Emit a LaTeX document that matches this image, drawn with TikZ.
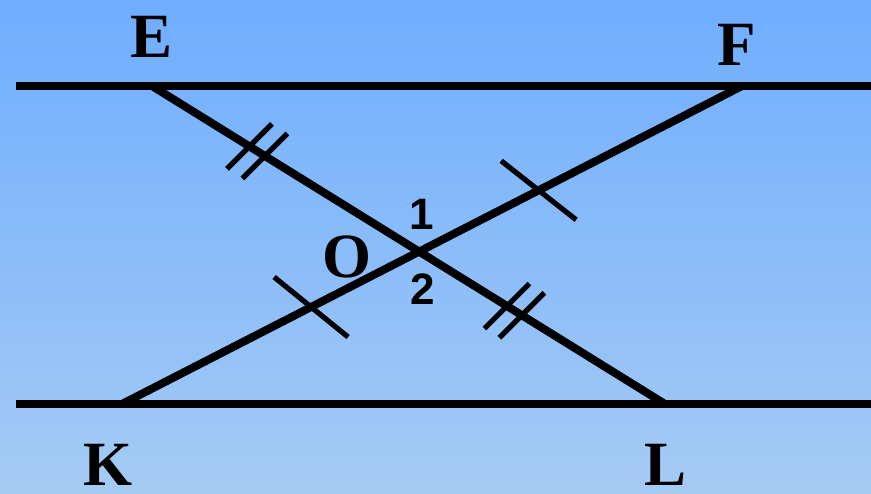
\documentclass[tikz,border=0pt]{standalone}
\usepackage{fontspec}
\setmainfont{Liberation Serif}
\newfontfamily\digitfont{Liberation Sans}
\usepackage{xcolor}
\usetikzlibrary{positioning, calc}

\definecolor{skytop}{HTML}{6FADFF}
\definecolor{skybottom}{HTML}{A5CBF4}

\begin{document}
\begin{tikzpicture}[
    x=0.5pt, y=-0.5pt,
    every node/.style={inner sep=0pt},
    line/.style={line width=4pt},
    tick/.style={line width=2.6pt},
    pointlabel/.style={font=\fontsize{31.5}{32}\selectfont\bfseries},
    anglelabel/.style={font=\digitfont\fontsize{22}{24}\selectfont\bfseries},
]
    % --- background ---
    \shade[top color=skytop, bottom color=skybottom] (0,0) rectangle (871,493);
    \useasboundingbox (0,0) rectangle (871,493);

    % --- points ---
    \coordinate (E) at (152,86);
    \coordinate (F) at (742,86);
    \coordinate (K) at (122,404);
    \coordinate (L) at (665,404);
    \coordinate (topleft) at (16,86);
    \coordinate (topright) at (871,86);
    \coordinate (botleft) at (16,404);
    \coordinate (botright) at (871,404);
    \coordinate (O) at (intersection of E--L and K--F);

    % --- lines ---
    \draw[line] (topleft) -- (topright);
    \draw[line] (botleft) -- (botright);
    \draw[line] (E) -- (L);
    \draw[line] (K) -- (F);

    % --- equal marks ---
    \draw[tick] ($(E)!0.190!(L)$) ++(-22.5,22.5) -- ++(45,-45);
    \draw[tick] ($(E)!0.220!(L)$) ++(-22.5,22.5) -- ++(45,-45);
    \draw[tick] ($(E)!0.692!(L)$) ++(-22.5,22.5) -- ++(45,-45);
    \draw[tick] ($(E)!0.721!(L)$) ++(-22.5,22.5) -- ++(45,-45);
    \draw[tick] ($(K)!0.672!(F)$) ++(-37.5,-29.5) -- ++(75,59);
    \draw[tick] ($(K)!0.305!(F)$) ++(-37,-30) -- ++(74,60);

    % --- labels ---
    \node[pointlabel] (labE) at (152,37) {E};
    \node[pointlabel] (labF) at (737,45) {F};
    \node[pointlabel] (labK) at (108,465) {K};
    \node[pointlabel] (labL) at (665,465) {L};
    \node[pointlabel] (labO) at (347,257) {O};
    \node[anglelabel] (one) at (422,214) {1};
    \node[anglelabel] (two) at (423,289) {2};

\end{tikzpicture}
\end{document}
